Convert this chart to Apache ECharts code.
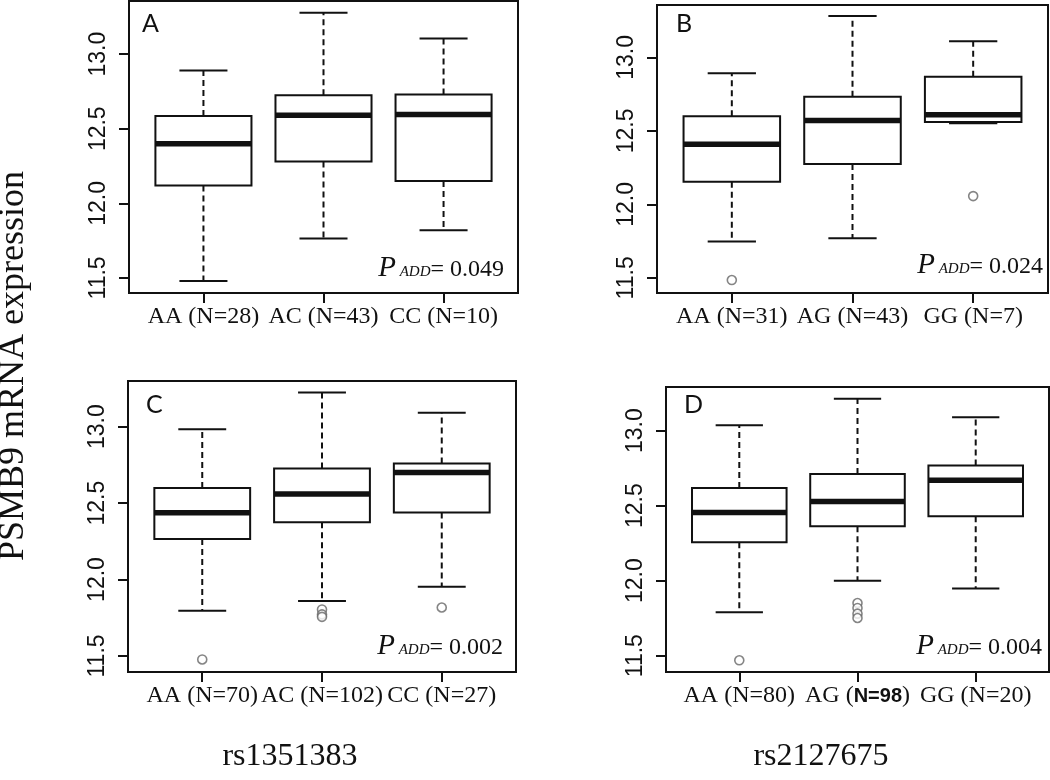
<!DOCTYPE html>
<html><head><meta charset="utf-8">
<script src="https://cdn.jsdelivr.net/npm/echarts@6/dist/echarts.min.js"></script>
<style>html,body{margin:0;padding:0;background:#fff}#c{width:1050px;height:780px}</style>
</head><body><div id="c"></div>
<script>
// ---- data ----
const panelLetters = ['A', 'B', 'C', 'D'];
const pValues = ['0.049', '0.024', '0.002', '0.004'];
const snpNames = ['rs1351383', 'rs2127675'];
const yTitle = 'PSMB9 mRNA expression';
const yTicks = [11.5, 12.0, 12.5, 13.0];

const catsA = ['AA (N=28)', 'AC (N=43)', 'CC (N=10)'];
// [lower whisker, Q1, median, Q3, upper whisker]
const statsA = [
  [11.48, 12.12, 12.40, 12.586, 12.89],
  [11.765, 12.28, 12.59, 12.725, 13.277],
  [11.82, 12.15, 12.595, 12.73, 13.105]
];
const outA = [];

const catsB = ['AA (N=31)', 'AG (N=43)', 'GG (N=7)'];
const statsB = [
  [11.748, 12.154, 12.408, 12.60, 12.891],
  [11.769, 12.274, 12.571, 12.732, 13.281],
  [12.551, 12.56, 12.609, 12.868, 13.109]
];
const outB = [[1, 11.485], [3, 12.056]];

const catsC = ['AA (N=70)', 'AC (N=102)', 'CC (N=27)'];
const statsC = [
  [11.795, 12.265, 12.437, 12.599, 12.983],
  [11.859, 12.374, 12.559, 12.727, 13.223],
  [11.952, 12.439, 12.70, 12.76, 13.092]
];
const outC = [[1, 11.477], [2, 11.804], [2, 11.772], [2, 11.756], [3, 11.817]];

const catsD = ['AA (N=80)', 'AG (N=98)', 'GG (N=20)'];
const statsD = [
  [11.789, 12.256, 12.455, 12.618, 13.036],
  [12.0, 12.362, 12.527, 12.711, 13.213],
  [11.947, 12.429, 12.669, 12.767, 13.089]
];
const outD = [[1, 11.469], [2, 11.851], [2, 11.818], [2, 11.78], [2, 11.751]];

// ---- layout ----
const panels = [
  {cats: catsA, stats: statsA, out: outA, ymin: 11.399, ymax: 13.356, grid: {left: 129, top: 1, width: 389, height: 292}},
  {cats: catsB, stats: statsB, out: outB, ymin: 11.397, ymax: 13.356, grid: {left: 657, top: 5, width: 391, height: 288}},
  {cats: catsC, stats: statsC, out: outC, ymin: 11.395, ymax: 13.299, grid: {left: 128, top: 381, width: 388, height: 291}},
  {cats: catsD, stats: statsD, out: outD, ymin: 11.391, ymax: 13.291, grid: {left: 666, top: 387, width: 383, height: 285}}
];

const INK = '#111';
const SERIF = '"Liberation Serif", "Times New Roman", serif';
const SANS = '"Liberation Sans", Arial, sans-serif';

function renderBox(params, api) {
  const x = api.value(0), lo = api.value(1), q1 = api.value(2), med = api.value(3), q3 = api.value(4), hi = api.value(5);
  const p = (xx, yy) => api.coord([xx, yy]);
  const half = 0.4, cap = 0.2;
  const ln = (a, b, w, dash) => ({type: 'line', shape: {x1: a[0], y1: a[1], x2: b[0], y2: b[1]},
    style: {stroke: INK, lineWidth: w, lineDash: dash || null, lineCap: 'butt'}});
  const tl = p(x - half, q3), br = p(x + half, q1);
  return {type: 'group', children: [
    ln(p(x, q3), p(x, hi), 2, [6, 4]),
    ln(p(x, q1), p(x, lo), 2, [6, 4]),
    ln(p(x - cap, hi), p(x + cap, hi), 2),
    ln(p(x - cap, lo), p(x + cap, lo), 2),
    {type: 'rect', shape: {x: tl[0], y: tl[1], width: br[0] - tl[0], height: br[1] - tl[1]},
      style: {fill: '#fff', stroke: INK, lineWidth: 2}},
    ln(p(x - half, med), p(x + half, med), 5.5)
  ]};
}

const grid = [], xAxis = [], yAxis = [], series = [];
panels.forEach((pn, i) => {
  grid.push(Object.assign({show: true, borderColor: INK, borderWidth: 2, backgroundColor: '#fff', containLabel: false}, pn.grid));
  xAxis.push({
    type: 'value', gridIndex: i, min: 0.38, max: 3.62,
    axisLine: {show: false}, splitLine: {show: false},
    axisTick: {show: true, customValues: [1, 2, 3], length: 10, lineStyle: {color: INK, width: 2}},
    axisLabel: {customValues: [1, 2, 3], margin: 12, color: INK, fontFamily: SERIF, fontSize: 24,
      formatter: v => {
        const s = pn.cats[Math.round(v) - 1] || '';
        if (i === 3 && Math.round(v) === 2) {
          const m = s.match(/^(\S+ \()(.*)(\))$/);
          if (m) return '{t|' + m[1] + '}{s|' + m[2] + '}{t|' + m[3] + '}';
        }
        return '{t|' + s + '}';
      },
      rich: {t: {fontFamily: SERIF, fontSize: 24, color: INK}, s: {fontFamily: SANS, fontSize: 20, fontWeight: 'bold', color: INK}}
    }
  });
  yAxis.push({
    type: 'value', gridIndex: i, min: pn.ymin, max: pn.ymax,
    axisLine: {show: false}, splitLine: {show: false},
    axisTick: {show: true, customValues: yTicks, length: 10, lineStyle: {color: INK, width: 2}},
    axisLabel: {customValues: yTicks, rotate: 90, margin: 19, color: INK, fontFamily: SANS, fontSize: 23,
      formatter: v => v.toFixed(1)}
  });
  series.push({
    type: 'custom', xAxisIndex: i, yAxisIndex: i,
    encode: {x: 0, y: [1, 2, 3, 4, 5]},
    data: pn.stats.map((s, k) => [k + 1].concat(s)),
    renderItem: renderBox, silent: true, z: 2
  });
  series.push({
    type: 'scatter', xAxisIndex: i, yAxisIndex: i, data: pn.out,
    symbol: 'circle', symbolSize: 9, silent: true, z: 3,
    itemStyle: {color: '#fff', borderColor: '#666', borderWidth: 1.6}
  });
});

const letterPos = [[142, 11], [676, 11], [146, 392], [684, 392]];
const pPos = [[504, 283], [1043, 280], [503, 661], [1042, 661]];
const graphic = [];
panels.forEach((pn, i) => {
  graphic.push({type: 'text', x: letterPos[i][0], y: letterPos[i][1], silent: true,
    style: {text: panelLetters[i], fill: INK, font: '25px Lato, "Liberation Sans", sans-serif', align: 'left', verticalAlign: 'top'}});
  graphic.push({type: 'text', x: pPos[i][0], y: pPos[i][1], silent: true,
    style: {text: '{p|P}{a| ADD}{n|= ' + pValues[i] + '}', align: 'right', verticalAlign: 'bottom',
      rich: {
        p: {fontFamily: SERIF, fontStyle: 'italic', fontSize: 29, fill: INK, verticalAlign: 'bottom'},
        a: {fontFamily: SERIF, fontStyle: 'italic', fontSize: 15, fill: INK, verticalAlign: 'bottom', padding: [0, 0, 3, 0]},
        n: {fontFamily: SERIF, fontSize: 24, fill: INK, verticalAlign: 'bottom', padding: [0, 0, 1, 0]}
      }}});
});
graphic.push({type: 'text', x: 14, y: 366, rotation: Math.PI / 2, silent: true,
  style: {text: yTitle, fill: INK, font: '36px ' + SERIF, align: 'center', verticalAlign: 'middle'}});
graphic.push({type: 'text', x: 290, y: 757, silent: true,
  style: {text: snpNames[0], fill: INK, font: '32px ' + SERIF, align: 'center', verticalAlign: 'middle'}});
graphic.push({type: 'text', x: 821, y: 757, silent: true,
  style: {text: snpNames[1], fill: INK, font: '32px ' + SERIF, align: 'center', verticalAlign: 'middle'}});

const chart = echarts.init(document.getElementById('c'), null, {renderer: 'canvas'});
chart.setOption({backgroundColor: '#fff', animation: false, grid, xAxis, yAxis, series, graphic});
</script>
</body></html>
